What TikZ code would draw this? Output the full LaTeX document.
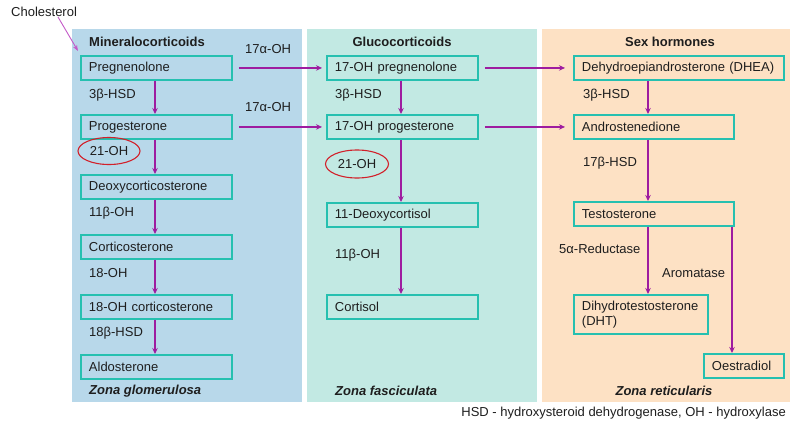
\documentclass[tikz,border=0pt]{standalone}
\usepackage{fontspec}
\setmainfont{Liberation Sans}
\usetikzlibrary{arrows.meta,shapes.geometric}
\definecolor{bluebg}{RGB}{184,216,234}
\definecolor{tealbg}{RGB}{194,233,227}
\definecolor{orangebg}{RGB}{253,225,196}
\definecolor{boxc}{RGB}{38,192,176}
\definecolor{arr}{RGB}{158,28,160}
\definecolor{arrlight}{RGB}{196,90,200}
\definecolor{ellc}{RGB}{210,32,42}
\definecolor{txt}{RGB}{30,30,30}
\begin{document}
\begin{tikzpicture}[x=1pt,y=-1pt,
  font=\fontsize{13}{15}\selectfont, text=txt,
  box/.style={draw=boxc,line width=1.9pt,anchor=north west,minimum height=24pt,
    inner xsep=8pt,inner ysep=2pt,align=left,text width=#1},
  lab/.style={anchor=west,inner sep=0pt},
  head/.style={inner sep=0pt,font=\fontsize{13}{15}\selectfont\bfseries},
  zone/.style={inner sep=0pt,font=\fontsize{13}{15}\selectfont\bfseries\itshape},
  flow/.style={draw=arr,line width=1.6pt,-{Stealth[length=6pt,width=5.5pt]}},
  ring/.style={ellipse,draw=ellc,line width=1.1pt,inner sep=0pt}]
\fill[white] (0,0) rectangle (796,431);
\useasboundingbox (0,0) rectangle (796,431);
% panels
\fill[bluebg] (72,29) rectangle (302,402);
\fill[tealbg] (307,29) rectangle (537,402);
\fill[orangebg] (542,29) rectangle (790,402);
% headings
\node[head,anchor=west] (hm) at (89,42) {Mineralocorticoids};
\node[head] (hg) at (402,42) {Glucocorticoids};
\node[head] (hs) at (670,42) {Sex hormones};
% cholesterol
\node[lab] (chol) at (11,12) {Cholesterol};
% left column
\node[box=135pt] (preg) at (80,55) {Pregnenolone};
\node[box=135pt] (prog) at (80,114) {Progesterone};
\node[box=135pt] (doc) at (80,174) {Deoxycorticosterone};
\node[box=135pt] (cort) at (80,234) {Corticosterone};
\node[box=135pt] (ohc) at (80,294) {18-OH corticosterone};
\node[box=135pt] (aldo) at (80,354) {Aldosterone};
\node[lab] (m1) at (89,95) {3β-HSD};
\node[ring,minimum width=62pt,minimum height=27pt] (m2) at (109,151) {21-OH};
\node[lab] (m3) at (89,213) {11β-OH};
\node[lab] (m4) at (89,273) {18-OH};
\node[lab] (m5) at (89,333) {18β-HSD};
\node[zone,anchor=west] (zg) at (89,391) {Zona glomerulosa};
% middle column
\node[box=135pt] (ohpreg) at (326,55) {17-OH pregnenolone};
\node[box=135pt] (ohprog) at (326,114) {17-OH progesterone};
\node[box=135pt] (dcort) at (326,202) {11-Deoxycortisol};
\node[box=135pt] (cortisol) at (326,294) {Cortisol};
\node[lab] (g1) at (335,95) {3β-HSD};
\node[ring,minimum width=63pt,minimum height=28pt] (g2) at (357,164) {21-OH};
\node[lab] (g3) at (335,255) {11β-OH};
\node[zone,anchor=west] (zf) at (335,391) {Zona fasciculata};
\node[lab] (a1) at (245,49) {17α-OH};
\node[lab] (a2) at (245,107) {17α-OH};
% right column
\node[box=194pt] (dhea) at (573,55) {Dehydroepiandrosterone (DHEA)};
\node[box=144pt] (andro) at (573,114) {Androstenedione};
\node[box=144pt] (testo) at (573,201) {Testosterone};
\node[box=118pt,minimum height=39pt] (dht) at (573,294) {Dihydrotestosterone\\(DHT)};
\node[box=64pt] (oest) at (703,353) {Oestradiol};
\node[lab] (s1) at (583,95) {3β-HSD};
\node[lab] (s2) at (583,163) {17β-HSD};
\node[lab] (s3) at (559,249) {5α-Reductase};
\node[lab] (s4) at (662,273) {Aromatase};
\node[zone] (zr) at (664,391) {Zona reticularis};
% footnote
\node[anchor=east,inner sep=0pt] (foot) at (786,413) {HSD - hydroxysteroid dehydrogenase, OH - hydroxylase};
% arrows
\coordinate (cholend) at (78,51);
\draw[draw=arrlight,line width=0.9pt,-{Stealth[length=6pt,width=4.5pt]}] (chol.south -| 58,0) -- (cholend);
\draw[flow] (preg.south -| 155,0) -- (prog.north -| 155,0);
\draw[flow] (prog.south -| 155,0) -- (doc.north -| 155,0);
\draw[flow] (doc.south -| 155,0) -- (cort.north -| 155,0);
\draw[flow] (cort.south -| 155,0) -- (ohc.north -| 155,0);
\draw[flow] (ohc.south -| 155,0) -- (aldo.north -| 155,0);
\draw[flow] (ohpreg.south -| 401,0) -- (ohprog.north -| 401,0);
\draw[flow] (ohprog.south -| 401,0) -- (dcort.north -| 401,0);
\draw[flow] (dcort.south -| 401,0) -- (cortisol.north -| 401,0);
\draw[flow] (dhea.south -| 648,0) -- (andro.north -| 648,0);
\draw[flow] (andro.south -| 648,0) -- (testo.north -| 648,0);
\draw[flow] (testo.south -| 648,0) -- (dht.north -| 648,0);
\draw[flow] (testo.south -| 732,0) -- (oest.north -| 732,0);
\draw[flow,shorten <=6pt,shorten >=4pt] (preg.east) -- (ohpreg.west);
\draw[flow,shorten <=6pt,shorten >=4pt] (prog.east) -- (ohprog.west);
\draw[flow,shorten <=6pt,shorten >=8pt] (ohpreg.east) -- (dhea.west);
\draw[flow,shorten <=6pt,shorten >=8pt] (ohprog.east) -- (andro.west);
\end{tikzpicture}
\end{document}
